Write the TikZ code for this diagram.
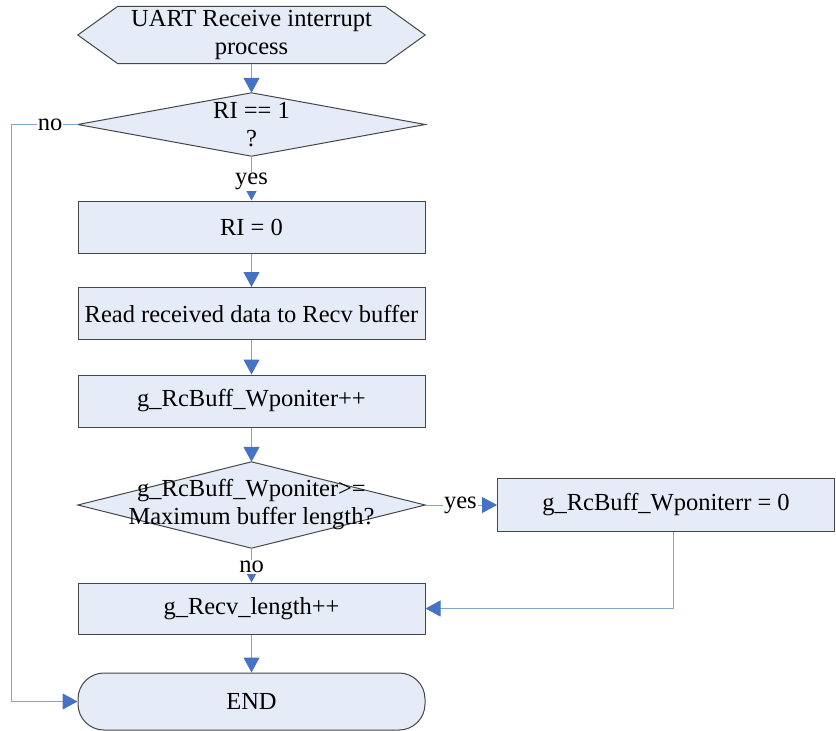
\documentclass[tikz,border=0pt]{standalone}
\usepackage{fontspec}
\setmainfont{Liberation Serif}
\usetikzlibrary{arrows.meta,calc,backgrounds}
\definecolor{BoxFill}{RGB}{230,236,247}
\definecolor{LineBlue}{RGB}{130,163,215}
\definecolor{TipBlue}{RGB}{68,114,196}
\definecolor{EdgeGray}{RGB}{70,70,70}

\begin{document}
\begin{tikzpicture}[x=1pt, y=-1pt,
  every node/.style={font=\fontsize{24.5}{28}\selectfont, align=center},
  procbox/.style={draw=EdgeGray, fill=BoxFill, line width=1pt, minimum width=347pt, minimum height=52pt, inner sep=0pt},
  shapebox/.style={minimum width=347pt, inner sep=0pt},
  outline/.style={draw=EdgeGray, fill=BoxFill, line width=1pt},
  flow/.style={draw=LineBlue, line width=1pt, -{Triangle[length=15pt,width=16pt,color=TipBlue]}},
  lbl/.style={fill=white, inner sep=1pt}]
  \useasboundingbox (0,0) rectangle (836,731);
  % nodes
  \node[shapebox, minimum height=57pt] (start) at (251.5,35) {UART Receive interrupt\\process};
  \node[shapebox, minimum height=63pt] (d1) at (251.5,124.5) {RI == 1\\?};
  \node[procbox] (b1) at (251.5,227) {RI = 0};
  \node[procbox] (b2) at (251.5,313.5) {Read received data to Recv buffer};
  \node[procbox] (b3) at (251.5,401) {g\_RcBuff\_Wponiter++};
  \node[shapebox, minimum height=86pt] (d2) at (251.5,505) {g\_RcBuff\_Wponiter>=\\Maximum buffer length?};
  \node[procbox, minimum width=337pt, minimum height=53pt] (b4) at (666,505) {g\_RcBuff\_Wponiterr = 0};
  \node[procbox, minimum height=51pt] (b5) at (251.5,608.5) {g\_Recv\_length++};
  \node[procbox, minimum height=57pt, rounded corners=26pt] (endn) at (251.5,701.5) {END};
  % outlines of hexagon and diamonds
  \begin{scope}[on background layer]
    \fill[white] (0,0) rectangle (836,731);
    \draw[outline] (start.west) -- ($(start.north west)+(40,0)$) -- ($(start.north east)+(-40,0)$)
      -- (start.east) -- ($(start.south east)+(-40,0)$) -- ($(start.south west)+(40,0)$) -- cycle;
    \draw[outline] (d1.west) -- (d1.north) -- (d1.east) -- (d1.south) -- cycle;
    \draw[outline] (d2.west) -- (d2.north) -- (d2.east) -- (d2.south) -- cycle;
  \end{scope}
  % connectors
  \draw[flow] (start.south) -- (d1.north);
  \draw[flow] (d1.south) -- node[lbl, pos=0.57] {yes} (b1.north);
  \draw[flow] (d1.west) -- node[lbl, pos=0.42] {no} ++(-66,0) |- (endn.west);
  \draw[flow] (b1) -- (b2);
  \draw[flow] (b2) -- (b3);
  \draw[flow] (b3.south) -- (d2.north);
  \draw[flow] (d2.east) -- node[lbl, pos=0.49] {yes} (b4.west);
  \draw[flow] (d2.south) -- node[lbl, pos=0.54] {no} (b5.north);
  \draw[flow] ($(b4.south)+(7,0)$) |- (b5.east);
  \draw[flow] (b5) -- (endn);
\end{tikzpicture}
\end{document}
